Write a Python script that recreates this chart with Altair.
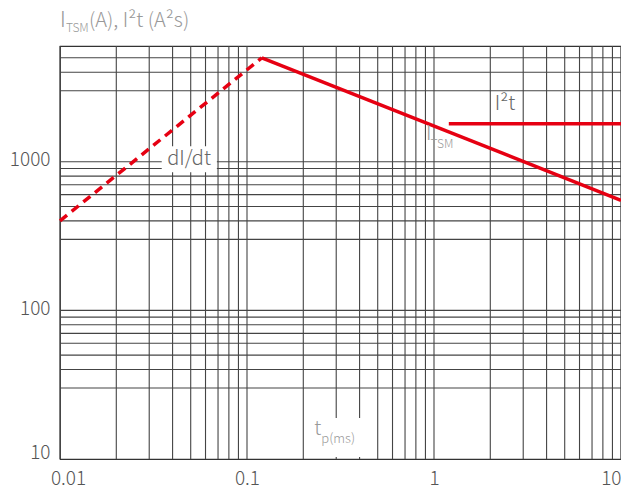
import altair as alt
import pandas as pd

# ---- data ----
x_grid = [0.01, 0.02, 0.03, 0.04, 0.05, 0.06, 0.07, 0.08, 0.09,
          0.1, 0.2, 0.3, 0.4, 0.5, 0.6, 0.7, 0.8, 0.9,
          1, 2, 3, 4, 5, 6, 7, 8, 9, 10]
y_grid = [30, 40, 50, 60, 70, 80, 90, 100,
          300, 400, 500, 600, 700, 800, 900, 1000,
          3000, 4000, 5000]
x_labels = [0.01, 0.1, 1, 10]
y_labels = [10, 100, 1000]

didt_t = [0.01, 0.12]
didt_i = [400, 5000]
itsm_t = [0.12, 10]
itsm_i = [5000, 550]
i2t_t = [1.2, 10]
i2t_v = [1800, 1800]

note_text = ["dI/dt", "I²t"]
note_t = [0.049, 2.4]
note_v = [1040, 2430]

box_t1 = [0.035, 0.205]
box_t2 = [0.069, 0.49]
box_v1 = [850, 10.3]
box_v2 = [1270, 18.9]

# ---- styling ----
FONT = "Noto Sans CJK JP"
RED = "#e60012"
GRID = "#444444"

xs = alt.Scale(type="log", domain=[0.01, 10])
ys = alt.Scale(type="log", domain=[10, 6000])

x_axis = alt.Axis(values=x_labels, format="~g", title=None, grid=False, ticks=False,
                  domain=False, labelFont=FONT, labelFontSize=19, labelFontWeight=300,
                  labelColor="#555555", labelPadding=10, labelFlush=False,
                  labelAlign={"condition": {"test": "datum.value == 10", "value": "right"},
                              "value": "center"},
                  labelOffset={"condition": {"test": "datum.value == 0.01", "value": 8},
                               "value": 0})
y_axis = alt.Axis(values=y_labels, format="~g", title=None, grid=False, ticks=False,
                  domain=False, labelFont=FONT, labelFontSize=19, labelFontWeight=300,
                  labelColor="#555555", labelPadding=10,
                  labelOffset={"condition": {"test": "datum.value == 10", "value": -7},
                               "value": -2})


def X(f):
    return alt.X(f, type="quantitative", scale=xs, axis=x_axis)


def Y(f):
    return alt.Y(f, type="quantitative", scale=ys, axis=y_axis)


vgrid = alt.Chart(pd.DataFrame({"t": x_grid})).mark_rule(
    color=GRID, strokeWidth=1.1).encode(x=X("t"))
hgrid = alt.Chart(pd.DataFrame({"v": y_grid})).mark_rule(
    color=GRID, strokeWidth=1.1).encode(y=Y("v"))

boxes = alt.Chart(pd.DataFrame({"t1": box_t1, "t2": box_t2, "v1": box_v1, "v2": box_v2})).mark_rect(
    fill="white").encode(x=X("t1"), x2="t2", y=Y("v1"), y2="v2")

didt = alt.Chart(pd.DataFrame({"t": didt_t, "v": didt_i})).mark_line(
    color=RED, strokeWidth=3.5, strokeDash=[9, 6]).encode(x=X("t"), y=Y("v"))
itsm = alt.Chart(pd.DataFrame({"t": itsm_t, "v": itsm_i})).mark_line(
    color=RED, strokeWidth=3.5).encode(x=X("t"), y=Y("v"))
i2t = alt.Chart(pd.DataFrame({"t": i2t_t, "v": i2t_v})).mark_line(
    color=RED, strokeWidth=3.5).encode(x=X("t"), y=Y("v"))

notes = alt.Chart(pd.DataFrame({"t": note_t, "v": note_v, "s": note_text})).mark_text(
    align="center", baseline="middle", font=FONT, fontSize=20, fontWeight=300, color="#666666"
).encode(x=X("t"), y=Y("v"), text="s:N")

itsm_I = alt.Chart(pd.DataFrame({"t": [0.907], "v": [1393]})).mark_text(
    text="I", align="left", baseline="alphabetic", font=FONT, fontSize=20, fontWeight=300,
    color="#999999").encode(x=X("t"), y=Y("v"))
itsm_sub = alt.Chart(pd.DataFrame({"t": [0.907], "v": [1393]})).mark_text(
    text="TSM", align="left", baseline="alphabetic", font=FONT, fontSize=12, fontWeight=300,
    color="#999999", dx=4.5, dy=8).encode(x=X("t"), y=Y("v"))

tp_t = alt.Chart(pd.DataFrame({"t": [0.229], "v": [14.5]})).mark_text(
    text="t", align="left", baseline="alphabetic", font=FONT, fontSize=20, fontWeight=300,
    color="#999999").encode(x=X("t"), y=Y("v"))
tp_sub = alt.Chart(pd.DataFrame({"t": [0.229], "v": [14.5]})).mark_text(
    text="p(ms)", align="left", baseline="alphabetic", font=FONT, fontSize=13, fontWeight=300,
    color="#999999", dx=7, dy=8).encode(x=X("t"), y=Y("v"))

title_I = alt.Chart(pd.DataFrame({"a": [0]})).mark_text(
    text="I", align="left", baseline="alphabetic", font=FONT, fontSize=21, fontWeight=300,
    color="#999999").encode(x=alt.value(0), y=alt.value(-19))
title_sub = alt.Chart(pd.DataFrame({"a": [0]})).mark_text(
    text="TSM", align="left", baseline="alphabetic", font=FONT, fontSize=12, fontWeight=300,
    color="#999999").encode(x=alt.value(6), y=alt.value(-14))
title_rest = alt.Chart(pd.DataFrame({"a": [0]})).mark_text(
    text="(A), I²t (A²s)", align="left", baseline="alphabetic", font=FONT, fontSize=20,
    fontWeight=300, color="#999999").encode(x=alt.value(29), y=alt.value(-19))

chart = alt.layer(
    vgrid, hgrid, boxes, didt, itsm, i2t, notes, itsm_I, itsm_sub, tp_t, tp_sub,
    title_I, title_sub, title_rest
).properties(
    width=561, height=413, autosize="none",
    padding={"left": 52, "top": 38, "right": 0, "bottom": 30},
    background="white"
).configure_view(stroke="#333333", strokeWidth=1.2)

chart.save("out.html", embed_options={"renderer": "svg", "actions": False})
